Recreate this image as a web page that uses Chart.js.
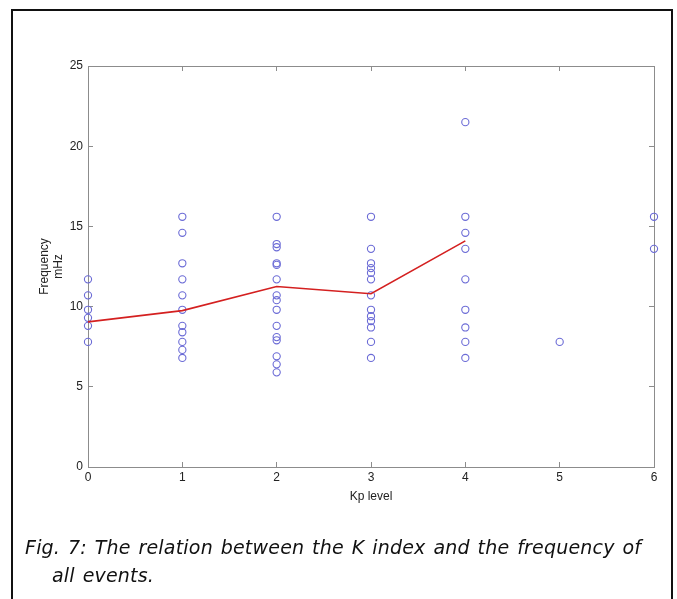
<!DOCTYPE html>
<html>
<head>
<meta charset="utf-8">
<script src="https://cdn.jsdelivr.net/npm/chart.js@4/dist/chart.umd.min.js"></script>
<style>
    body { margin: 0; background: #fff; }
    #wrap { position: relative; width: 677px; height: 599px; overflow: hidden; }
    #chart { position: absolute; left: 0; top: 0; }
    .frame {
        position: absolute; left: 11px; top: 9px; width: 658px; height: 620px;
        border: 2px solid #111; pointer-events: none;
    }
    .caption {
        position: absolute; left: 25px; top: 533px; width: 645px;
        font-family: "DejaVu Sans", sans-serif; font-style: italic;
        font-size: 19px; line-height: 28px; color: #111;
        letter-spacing: 0.2px; word-spacing: 1.6px; white-space: nowrap;
    }
    .caption .l2 { padding-left: 27px; }
</style>
</head>
<body>
<div id="wrap">
    <canvas id="chart" width="677" height="599"></canvas>
    <div class="frame"></div>
    <div class="caption">Fig. 7: The relation between the K index and the frequency of<br><span class="l2">all events.</span></div>
</div>
<script>
// Frequency (mHz) of each event, grouped by Kp level
const kpLevels = [0, 1, 2, 3, 4, 5, 6];
const freqKp0 = [11.7, 10.7, 9.8, 9.3, 8.8, 7.8];
const freqKp1 = [15.6, 14.6, 12.7, 11.7, 10.7, 9.8, 8.8, 8.4, 7.8, 7.3, 6.8];
const freqKp2 = [15.6, 13.9, 13.7, 12.7, 12.6, 11.7, 10.7, 10.4, 9.8, 8.8, 8.1, 7.9, 6.9, 6.4, 5.9];
const freqKp3 = [15.6, 13.6, 12.7, 12.4, 12.1, 11.7, 10.7, 9.8, 9.4, 9.1, 8.7, 7.8, 6.8];
const freqKp4 = [21.5, 15.6, 14.6, 13.6, 11.7, 9.8, 8.7, 7.8, 6.8];
const freqKp5 = [7.8];
const freqKp6 = [15.6, 13.6];

// mean frequency line
const meanKp = [0, 1, 2, 3, 4];
const meanFreq = [9.05, 9.75, 11.25, 10.8, 14.1];

const yTicks = [0, 5, 10, 15, 20, 25];

const groups = [freqKp0, freqKp1, freqKp2, freqKp3, freqKp4, freqKp5, freqKp6];
const eventPoints = [];
groups.forEach((list, i) => {
    list.forEach(f => eventPoints.push({ x: kpLevels[i], y: f }));
});
const meanPoints = meanKp.map((k, i) => ({ x: k, y: meanFreq[i] }));

Chart.defaults.font.family = '"Liberation Sans", Arial, sans-serif';
Chart.defaults.font.size = 12;
Chart.defaults.color = '#222';

const axisGrey = '#8c8c8c';
const tickOpts = (show) => ({
    display: show,
    color: '#222',
    padding: 10,
    font: { size: 12 }
});
const gridOpts = {
    drawOnChartArea: false,
    drawTicks: true,
    tickLength: -5,
    color: axisGrey,
    lineWidth: 1
};
const borderOpts = { display: true, color: axisGrey, width: 1 };

new Chart(document.getElementById('chart').getContext('2d'), {
    type: 'scatter',
    data: {
        datasets: [
            {
                label: 'events',
                data: eventPoints,
                showLine: false,
                pointStyle: 'circle',
                pointRadius: 3.6,
                pointBorderWidth: 1.1,
                pointBorderColor: '#6b6bd6',
                pointBackgroundColor: 'rgba(0,0,0,0)',
                clip: false,
                order: 2
            },
            {
                label: 'mean',
                type: 'line',
                data: meanPoints,
                borderColor: '#d42020',
                borderWidth: 1.6,
                pointRadius: 0,
                fill: false,
                tension: 0,
                clip: false,
                order: 1
            }
        ]
    },
    options: {
        responsive: false,
        animation: false,
        layout: { padding: { left: 33, top: 66, right: 23, bottom: 91 } },
        plugins: { legend: { display: false }, tooltip: { enabled: false } },
        scales: {
            x: {
                type: 'linear', position: 'bottom', min: 0, max: 6,
                ticks: { ...tickOpts(true), stepSize: 1, padding: 8 },
                grid: gridOpts, border: borderOpts,
                title: { display: true, text: 'Kp level', color: '#222', font: { size: 12 }, padding: 4 },
                afterFit: s => { s.height = 41; }
            },
            x2: {
                type: 'linear', position: 'top', min: 0, max: 6,
                ticks: { display: false, stepSize: 1 },
                grid: gridOpts, border: borderOpts,
                afterFit: s => { s.height = 0; }
            },
            y: {
                type: 'linear', position: 'left', min: 0, max: 25,
                afterBuildTicks: s => { s.ticks = yTicks.map(v => ({ value: v })); },
                ticks: tickOpts(true),
                grid: gridOpts, border: borderOpts,
                title: { display: true, text: ['Frequency', 'mHz'], color: '#222', font: { size: 12 }, padding: 4 },
                afterFit: s => { s.width = 55; }
            },
            y2: {
                type: 'linear', position: 'right', min: 0, max: 25,
                afterBuildTicks: s => { s.ticks = yTicks.map(v => ({ value: v })); },
                ticks: { display: false },
                grid: gridOpts, border: borderOpts,
                afterFit: s => { s.width = 0; }
            }
        }
    }
});
</script>
</body>
</html>
